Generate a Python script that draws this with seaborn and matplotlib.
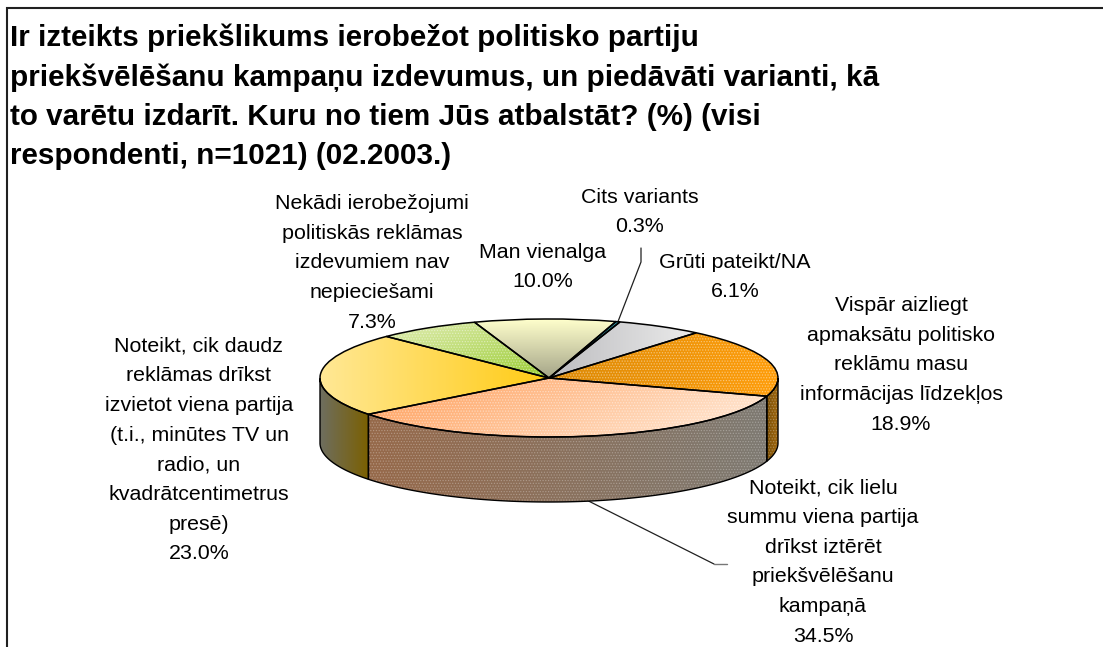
import numpy as np
import seaborn as sns
from matplotlib import pyplot as plt
from matplotlib.patches import Polygon, Wedge

# data, clockwise from the first slice
labels = ['Vispār aizliegt\napmaksātu politisko\nreklāmu masu\ninformācijas līdzekļos',
          'Noteikt, cik lielu\nsummu viena partija\ndrīkst iztērēt\npriekšvēlēšanu\nkampaņā',
          'Noteikt, cik daudz\nreklāmas drīkst\nizvietot viena partija\n(t.i., minūtes TV un\nradio, un\nkvadrātcentimetrus\npresē)',
          'Nekādi ierobežojumi\npolitiskās reklāmas\nizdevumiem nav\nnepieciešami',
          'Man vienalga',
          'Cits variants',
          'Grūti pateikt/NA']
values = [18.9, 34.5, 23.0, 7.3, 10.0, 0.3, 6.1]
title = ('Ir izteikts priekšlikums ierobežot politisko partiju\n'
         'priekšvēlēšanu kampaņu izdevumus, un piedāvāti varianti, kā\n'
         'to varētu izdarīt. Kuru no tiem Jūs atbalstāt? (%) (visi\n'
         'respondenti, n=1021) (02.2003.)')

# layout, in pixels of the 1103x647 picture
W, H = 1103, 647
CX, CY, RX, RY, DEPTH = 549, 378, 229, 59, 65
label_pos = [(901, 365), (823, 562), (199, 450), (372, 263), (543, 267), (640, 212), (735, 277)]

# gradient start, end, direction (x, y) for tops and visible rims
top_style = [('#DC8A06', '#FF9D0A', (1, 0), True),
             ('#FF9E59', '#FFEDDD', (1, -0.3), True),
             ('#FFE895', '#FFCB14', (1, 0), False),
             ('#E2EDB5', '#9ACD32', (1, -1), True),
             ('#FFFFCC', '#A4A488', (0, -1), False),
             ('#2F8F9F', '#2F8F9F', (1, 0), False),
             ('#BDBDC0', '#EBEBEB', (1, 0), False)]
rim_style = {0: ('#7A4E05', '#A36A10', True),
             1: ('#96694A', '#7E7A72', True),
             2: ('#6E6E60', '#7B6000', False)}

sns.set_theme(style='white')
plt.rcParams['font.family'] = ['Liberation Sans', 'DejaVu Sans']
plt.rcParams['hatch.linewidth'] = 0.6


def fill_gradient(ax, patch, start, end, direction, box):
    cmap = sns.blend_palette([start, end], n_colors=128, as_cmap=True)
    xx, yy = np.meshgrid(np.linspace(0, 1, 200), np.linspace(0, 1, 200))
    grad = xx * direction[0] + yy * direction[1]
    grad = (grad - grad.min()) / (grad.max() - grad.min())
    im = ax.imshow(grad, cmap=cmap, origin='lower', extent=box, aspect='auto', zorder=1)
    im.set_clip_path(patch)


def add_texture(ax, patch_cls, *args, alpha=0.4, **kwargs):
    ax.add_patch(patch_cls(*args, fill=False, hatch='......', linewidth=0,
                           edgecolor=(1, 1, 1, alpha), zorder=2, **kwargs))


fig = plt.figure(figsize=(W / 100, H / 100), dpi=100)

ax = fig.add_axes([0, 0, 1, 1])
ax.set_xlim(0, W)
ax.set_ylim(H, 0)
ax.axis('off')

# the pie sits in its own squashed axes, so a circle becomes the ellipse
x_lim, y_lim = (-1.05, 1.05), (-2.3, 1.05)
pie_ax = fig.add_axes([(CX + x_lim[0] * RX) / W,
                       (H - CY + y_lim[0] * RY) / H,
                       (x_lim[1] - x_lim[0]) * RX / W,
                       (y_lim[1] - y_lim[0]) * RY / H])
wedges, _ = pie_ax.pie(values, startangle=50, counterclock=False, radius=1,
                       wedgeprops={'facecolor': 'none', 'edgecolor': 'black',
                                   'linewidth': 1.1, 'zorder': 3})

for i, w in enumerate(wedges):
    start, end, direction, textured = top_style[i]
    t = np.radians(np.linspace(w.theta1, w.theta2, 120))
    xs = np.r_[0, np.cos(t)]
    ys = np.r_[0, np.sin(t)]
    fill_gradient(pie_ax, w, start, end, direction, (xs.min(), xs.max(), ys.min(), ys.max()))
    if textured:
        add_texture(pie_ax, Wedge, (0, 0), 1, w.theta1, w.theta2)

    # visible side of the slice
    front = t[np.sin(t) <= 0]
    if i in rim_style and len(front):
        rim_depth = DEPTH / RY
        pts = np.r_[np.c_[np.cos(front), np.sin(front)],
                    np.c_[np.cos(front), np.sin(front) - rim_depth][::-1]]
        rim = Polygon(pts, closed=True, facecolor='none', edgecolor='black', linewidth=1.0, zorder=3)
        pie_ax.add_patch(rim)
        c1, c2, textured_rim = rim_style[i]
        fill_gradient(pie_ax, rim, c1, c2, (1, 0),
                      (pts[:, 0].min(), pts[:, 0].max(), pts[:, 1].min(), pts[:, 1].max()))
        if textured_rim:
            add_texture(pie_ax, Polygon, pts, closed=True, alpha=0.25)

pie_ax.set_aspect('auto')
pie_ax.set_xlim(*x_lim)
pie_ax.set_ylim(*y_lim)
pie_ax.axis('off')

# chart frame, open at the right and bottom
ax.plot([6.5, 6.5, W], [H, 7.5, 7.5], color='#202020', lw=1.5, solid_joinstyle='miter')

ax.text(10, 97, title, fontsize=21.3, fontweight='bold', color='black',
        ha='left', va='center', linespacing=1.51)

for name, val, pos in zip(labels, values, label_pos):
    ax.text(pos[0], pos[1], f'{name}\n{val:.1f}%', fontsize=15.4, color='black',
            ha='center', va='center', linespacing=1.71)


def mid_angle(w):
    return np.radians((w.theta1 + w.theta2) / 2)


# leader lines, anchored on the slice they belong to
a = mid_angle(wedges[5])
ax.plot([641, 641, CX + RX * np.cos(a)], [248, 262, CY - RY * np.sin(a)], color='#202020', lw=0.9)
a = mid_angle(wedges[1])
ax.plot([CX + RX * np.cos(a), 714], [CY - RY * np.sin(a) + DEPTH, 564], color='#202020', lw=0.9)
ax.plot([714, 727], [564, 564], color='#777777', lw=1.0)

fig.savefig('out.png', dpi=100, facecolor='white')
